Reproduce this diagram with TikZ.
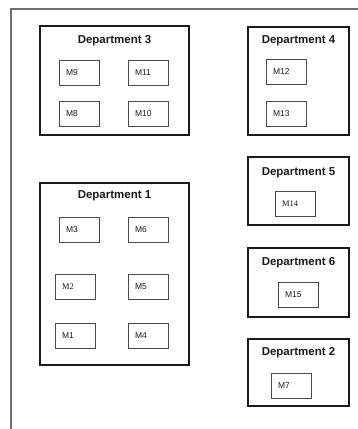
\documentclass[tikz,border=0pt]{standalone}
\usepackage{fontspec}
\setmainfont{Liberation Sans}
\newfontfamily\mserif{Liberation Serif}
\usepackage{xcolor}
\usepackage{tikz}
\usetikzlibrary{positioning}
\definecolor{framec}{HTML}{707070}
\definecolor{machc}{HTML}{4A4A4A}
\definecolor{deptc}{HTML}{1A1A1A}
\tikzset{
  frm/.style={framec,line width=1.1pt},
  dept/.style={draw=deptc,line width=2.3pt,anchor=north west,inner sep=0pt,outer sep=0pt},
  ttl/.style={font=\fontsize{11.5}{13}\selectfont\bfseries,text=deptc,inner sep=0pt},
  mach/.style={draw=machc,line width=0.9pt,anchor=north west,minimum height=25pt,text width=26pt,
    align=left,inner xsep=7pt,inner ysep=0pt,outer sep=0pt,font=\fontsize{8.5}{10}\selectfont,text=deptc},
  machs/.style={mach,font=\fontsize{8.5}{10}\selectfont\mserif}
}
\begin{document}
\begin{tikzpicture}[x=1pt,y=-1pt]
\useasboundingbox (0,0) rectangle (358,429);
\draw[frm] (11,429)--(11,9)--(358,9);
% departments
\foreach \d/\x/\y/\w/\h/\t in {3/40/26/149/109/41,1/40/183/149/182/196,4/248/27/101/108/41,
  5/248/157/101/68/173,6/248/248/101/69/263,2/248/339/101/67/353}{
 \node[dept,minimum width=\w pt,minimum height=\h pt] (dep\d) at (\x,\y) {};
 \node[ttl] (ttl\d) at ({\x+\w/2},\t) {Department \d};}
% machines
\foreach \m/\x/\y/\s in {9/59/60/mach,11/128/60/mach,8/59/101/mach,10/128/101/mach,
  3/59/217/mach,6/128/217/mach,2/55/274/machs,5/128/274/mach,1/55/323/mach,4/128/323/mach,
  12/266/59/mach,13/266/101/mach,14/275/191/machs,15/278/282/mach,7/271/373/mach}{
 \node[\s] (m\m) at (\x,\y) {M\m};}
\end{tikzpicture}
\end{document}
